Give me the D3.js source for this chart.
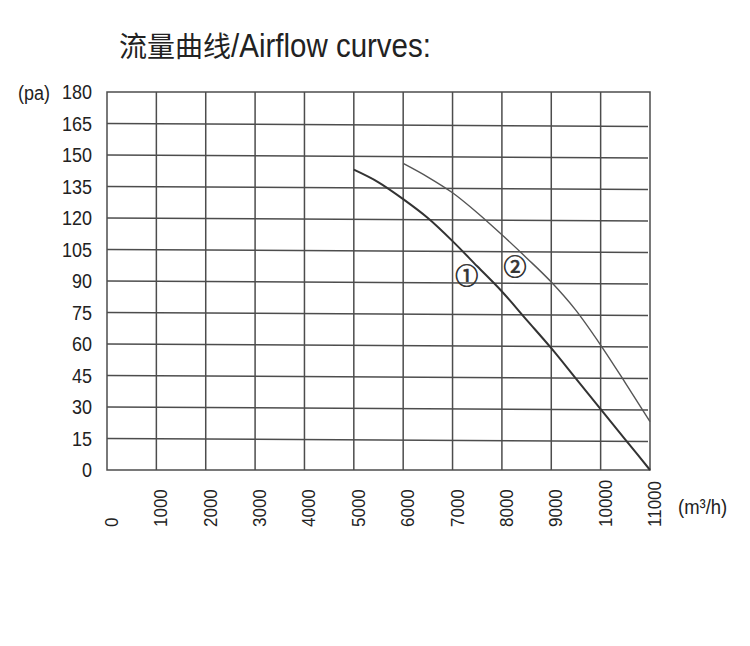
<!DOCTYPE html>
<html>
<head>
<meta charset="utf-8">
<script src="https://cdn.jsdelivr.net/npm/d3@7"></script>
<style>
  html, body { margin: 0; padding: 0; background: #fff; }
  svg { display: block; }
  text { font-family: "Liberation Sans", Arial, sans-serif; fill: #222; }
</style>
</head>
<body>
<svg id="chart" width="750" height="646"></svg>
<script>
// Airflow (m³/h) vs static pressure (pa)
const xTicks = [0, 1000, 2000, 3000, 4000, 5000, 6000, 7000, 8000, 9000, 10000, 11000];
const yTicks = [0, 15, 30, 45, 60, 75, 90, 105, 120, 135, 150, 165, 180];

// Curve ①
const flow1 = [5000, 5500, 6000, 6500, 7000, 7500, 8000, 8500, 9000, 9500, 10000, 10500, 11000];
const pres1 = [143, 137, 129, 120, 109, 97, 85, 71.5, 58, 43.5, 29, 14.5, 0];
// Curve ②
const flow2 = [6000, 6500, 7000, 7500, 8000, 8500, 9000, 9500, 10000, 10500, 11000];
const pres2 = [146, 139.5, 132, 122.5, 112, 101, 89.5, 76, 59.5, 41.5, 23];

const curveLabels = ["①", "②"];
const labelFlow = [7290, 8266];
const labelPres = [92.4, 96.7];

const titleCn = "流量曲线";
const titleEn = "/Airflow curves:";

const svg = d3.select("#chart");
const plotLeft = 107, plotRight = 650, plotTop = 92, plotBottom = 470;
const glyphStretch = 1.12; // tall, narrow lettering

const x = d3.scaleLinear().domain([0, 11000]).range([plotLeft, plotRight]);
const y = d3.scaleLinear().domain([0, 180]).range([plotBottom, plotTop]);

// Title: Chinese part, then the English part right after it
const titleX = 119, titleY = 57;
const cn = svg.append("text")
  .attr("x", titleX).attr("y", titleY)
  .style("font-family", "'Noto Sans CJK SC', sans-serif")
  .style("font-size", "28px")
  .text(titleCn);
const cnWidth = cn.node().getComputedTextLength();
svg.append("text")
  .attr("transform", `translate(${titleX + cnWidth},${titleY}) scale(1,${glyphStretch})`)
  .style("font-size", "29.5px")
  .text(titleEn);

const gridColor = "#4d4d4d";
const grid = svg.append("g");

// Horizontal grid lines (slight downward drift to the right)
grid.selectAll("line.h")
  .data(yTicks.filter(v => v > 0 && v < 180))
  .join("line")
  .attr("x1", plotLeft).attr("x2", plotRight - 2)
  .attr("y1", d => y(d)).attr("y2", d => y(d) + 3)
  .attr("stroke", gridColor).attr("stroke-width", 1.5);

// Vertical grid lines
grid.selectAll("line.v")
  .data(xTicks.filter(v => v > 0 && v < 11000))
  .join("line")
  .attr("x1", d => x(d)).attr("x2", d => x(d))
  .attr("y1", plotTop).attr("y2", plotBottom)
  .attr("stroke", gridColor).attr("stroke-width", 1.5);

// Frame
grid.append("rect")
  .attr("x", plotLeft).attr("y", plotTop)
  .attr("width", plotRight - plotLeft).attr("height", plotBottom - plotTop)
  .attr("fill", "none").attr("stroke", gridColor).attr("stroke-width", 1.5);

// Y axis labels
svg.append("g").selectAll("text")
  .data(yTicks)
  .join("text")
  .attr("transform", d => `translate(92,${y(d)}) scale(1,${glyphStretch})`)
  .attr("dy", "0.36em")
  .attr("text-anchor", "end")
  .style("font-size", "18px")
  .text(d => d);

svg.append("text")
  .attr("transform", `translate(18,100) scale(1,${glyphStretch})`)
  .style("font-size", "18px")
  .text("(pa)");

// X axis labels (rotated)
svg.append("g").selectAll("text")
  .data(xTicks)
  .join("text")
  .attr("transform", d => `translate(${x(d) + 11},527) rotate(-90) scale(1,${glyphStretch})`)
  .attr("text-anchor", "start")
  .style("font-size", "17px")
  .text(d => d);

svg.append("text")
  .attr("transform", `translate(678,514) scale(1,${glyphStretch})`)
  .style("font-size", "18.5px")
  .text("(m³/h)");

// Curves
const line = d3.line().curve(d3.curveMonotoneX);
svg.append("path")
  .attr("d", line(flow1.map((f, i) => [x(f), y(pres1[i])])))
  .attr("fill", "none").attr("stroke", "#333").attr("stroke-width", 2);
svg.append("path")
  .attr("d", line(flow2.map((f, i) => [x(f), y(pres2[i])])))
  .attr("fill", "none").attr("stroke", "#555").attr("stroke-width", 1.4);

// Curve markers
svg.append("g").selectAll("text")
  .data(curveLabels)
  .join("text")
  .attr("x", (d, i) => x(labelFlow[i]))
  .attr("y", (d, i) => y(labelPres[i]))
  .attr("dy", "0.35em")
  .attr("text-anchor", "middle")
  .style("font-family", "'Noto Sans CJK SC', sans-serif")
  .style("font-size", "23px")
  .style("fill", "#333")
  .style("stroke", "#333")
  .style("stroke-width", 0.7)
  .text(d => d);
</script>
</body>
</html>
